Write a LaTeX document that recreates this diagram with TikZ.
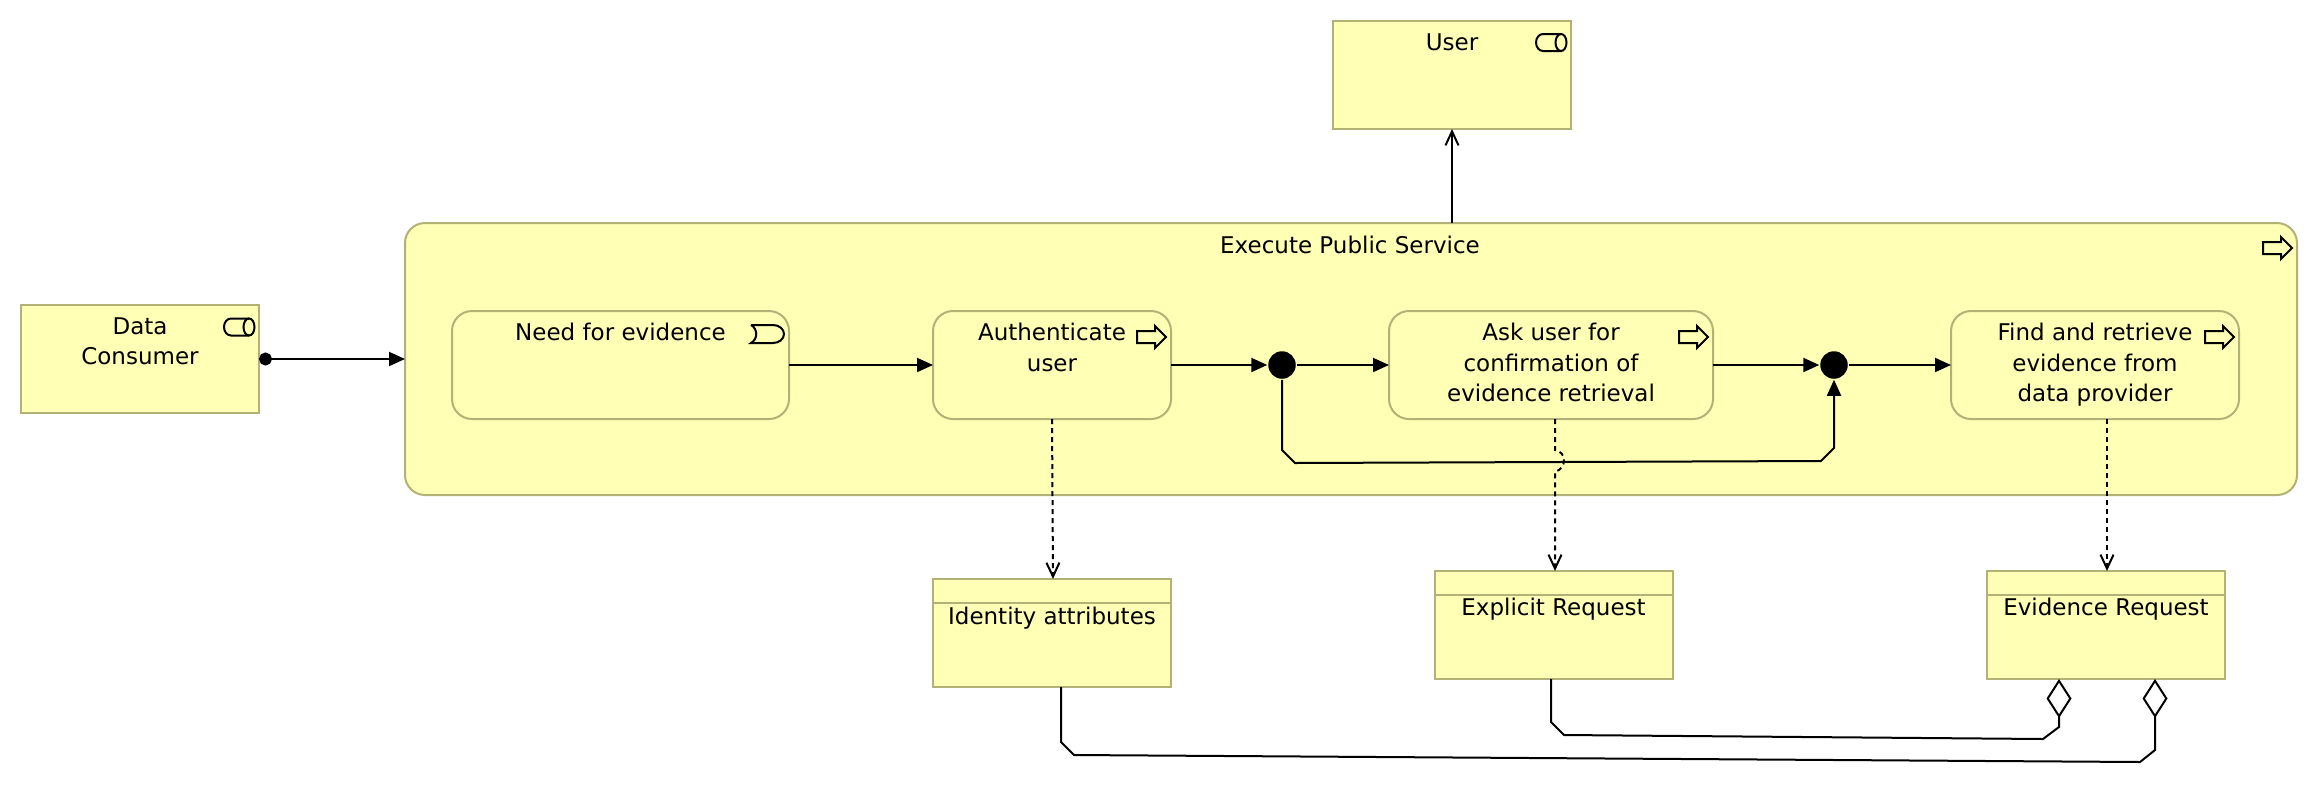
\documentclass[tikz,border=0pt]{standalone}
\usepackage{fontspec}
\setmainfont{DejaVu Sans}
\usepackage{xcolor}
\usetikzlibrary{arrows.meta,calc}
\definecolor{boxfill}{HTML}{FFFFB5}
\definecolor{boxline}{HTML}{B2B277}
\begin{document}
\begin{tikzpicture}[x=1pt,y=-1pt,line width=2pt,
  box/.style={draw=boxline,fill=boxfill,align=center,outer sep=0pt,inner sep=0pt,
    font=\fontsize{23}{30.5}\selectfont,minimum height=108pt,
    execute at begin node={\rule{0pt}{25pt}},execute at end node={\rule[-5pt]{0pt}{5pt}}},
  actor/.style={box,minimum width=238pt},
  dataobj/.style={box,minimum width=238pt},
  proc/.style={box,rounded corners=20pt},
  ttl/.style={font=\fontsize{23}{30.5}\selectfont,inner sep=0pt},
  junct/.style={circle,fill=black,minimum size=27.5pt,inner sep=0pt,outer sep=1pt},
  flow/.style={-{Triangle[length=16pt,width=14pt]}},
  plain/.style={-{Straight Barb[length=14pt,width=13pt]}},
  access/.style={plain,dash pattern=on 5pt off 4pt},
  agg/.style={-{Diamond[length=39pt,width=25pt,fill=white]}},
  procicon/.pic={\draw[fill=boxfill,line join=miter] (0,-6) -- (18,-6) -- (18,-11) -- (29,0) -- (18,11) -- (18,6) -- (0,6) -- cycle;},
  actoricon/.pic={\draw (25,-8.5) -- (7,-8.5) arc[start angle=270,end angle=90,x radius=7,y radius=8.5] -- (25,8.5);
    \draw (25,0) circle[x radius=5.5,y radius=8.5];},
  eventicon/.pic={\draw (0,-9) -- (22,-9) arc[start angle=270,end angle=450,x radius=11,y radius=9] -- (0,9)
    .. controls (7,5) and (7,-5) .. (0,-9);}]
  \useasboundingbox (0,0) rectangle (2318,804);
  % ---- outer process ----
  \node[proc,minimum width=1892pt,minimum height=272pt] (exec) at (1351,359) {};
  \node[ttl] (exectitle) at (1350,245) {Execute Public Service};
  \pic at (2263,248) {procicon};
  % ---- actors ----
  \node[actor] (user) at (1452,75) {User\\~\\~};
  \pic at (1536,42.5) {actoricon};
  \node[actor] (cons) at (140,359) {Data\\Consumer\\~};
  \pic at (224,327) {actoricon};
  % ---- inner steps ----
  \node[proc,minimum width=337pt] (need) at (620.5,365) {Need for evidence\\~\\~};
  \pic at (751,334) {eventicon};
  \node[proc,minimum width=238pt] (auth) at (1052,365) {Authenticate\\user\\~};
  \pic at (1137,337) {procicon};
  \node[junct] (dot1) at (1282,365) {};
  \node[proc,minimum width=324pt] (ask) at (1551,365) {Ask user for\\confirmation of\\evidence retrieval};
  \pic at (1679,337) {procicon};
  \node[junct] (dot2) at (1834,365) {};
  \node[proc,minimum width=288pt] (find) at (2095,365) {Find and retrieve\\evidence from\\data provider};
  \pic at (2205,337) {procicon};
  % ---- data objects ----
  \node[dataobj] (iden) at (1052,633) {Identity attributes\\~};
  \node[dataobj] (expl) at (1553.5,625) {Explicit Request\\~};
  \node[dataobj] (evid) at (2106,625) {Evidence Request\\~};
  \draw[boxline] ([yshift=-24pt]iden.north west) -- ([yshift=-24pt]iden.north east);
  \draw[boxline] ([yshift=-24pt]expl.north west) -- ([yshift=-24pt]expl.north east);
  \draw[boxline] ([yshift=-24pt]evid.north west) -- ([yshift=-24pt]evid.north east);
  % ---- flows ----
  \draw[{Circle[length=13pt]}-{Triangle[length=16pt,width=14pt]}] (cons.east) -- (exec.west);
  \draw[plain] (user.south |- exec.north) -- (user.south);
  \draw[flow] (need) -- (auth);
  \draw[flow] (auth) -- (dot1);
  \draw[flow] (dot1) -- (ask);
  \draw[flow] (ask) -- (dot2);
  \draw[flow] (dot2) -- (find);
  \draw[flow] (dot1.south) -- (1282,450) -- (1295,463) -- (1821,461) -- (1834,448) -- (dot2.south);
  % ---- access ----
  \draw[access] (auth.south) -- ([xshift=1pt]iden.north);
  \draw[access] ([xshift=4pt]ask.south) -- (1555,450) .. controls (1567,452) and (1567,468) .. (1555,472) -- ([xshift=1.5pt]expl.north);
  \draw[access] ([xshift=12pt]find.south) -- ([xshift=1pt]evid.north);
  % ---- aggregation ----
  \draw[agg] ([xshift=-2.5pt]expl.south) -- (1551,722) -- (1564,735) -- (2043,739) -- (2059,727) -- ([xshift=-47pt]evid.south);
  \draw[agg] ([xshift=9pt]iden.south) -- (1061,742) -- (1074,755) -- (2140,762) -- (2155,750) -- ([xshift=49pt]evid.south);
\end{tikzpicture}
\end{document}
